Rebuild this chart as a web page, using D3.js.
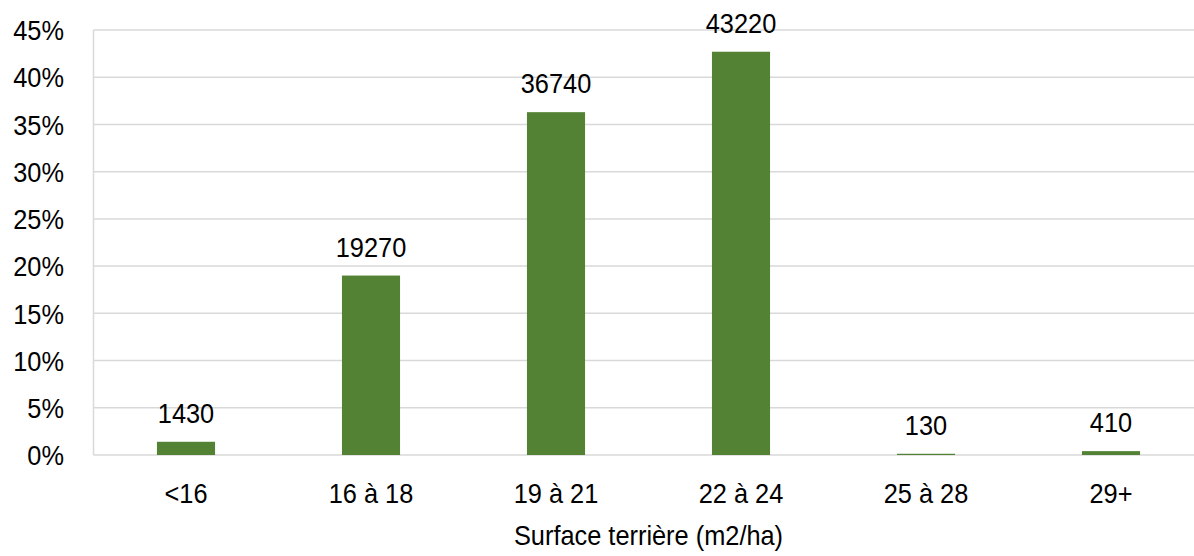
<!DOCTYPE html>
<html>
<head>
<meta charset="utf-8">
<script src="https://cdn.jsdelivr.net/npm/d3@7"></script>
<style>
  body { margin: 0; background: #fff; }
  svg text { font-family: "Liberation Sans", Arial, sans-serif; fill: #000; }
</style>
</head>
<body>
<div id="chart"></div>
<script>
// categories, counts shown above bars, share (%)
const categories = ["<16", "16 à 18", "19 à 21", "22 à 24", "25 à 28", "29+"];
const counts = [1430, 19270, 36740, 43220, 130, 410];
const shares = [1.4, 19.0, 36.3, 42.7, 0.13, 0.41];
const yTicks = [0, 5, 10, 15, 20, 25, 30, 35, 40, 45];
const xTitle = "Surface terrière (m2/ha)";

const width = 1194;
const height = 556;
const plot = { left: 93.5, right: 1203.5, top: 30, bottom: 455 };
const fontSize = 28.5;

const data = categories.map((c, i) => ({ cat: c, count: counts[i], share: shares[i] }));

// narrow look: move x/y into a transform and squeeze horizontally
function squeeze(sel) {
    sel.each(function () {
        const t = d3.select(this);
        const x = +t.attr("x") || 0, y = +t.attr("y") || 0;
        t.attr("x", 0).attr("y", 0)
            .attr("transform", `translate(${x},${y}) scale(0.89,1)`);
    });
}

const svg = d3.select("#chart")
    .append("svg")
    .attr("width", width)
    .attr("height", height);

const xScale = d3.scaleBand()
    .domain(categories)
    .range([plot.left, plot.right])
    .paddingInner(0.686)
    .paddingOuter(0.343);

const yScale = d3.scaleLinear()
    .domain([0, 45])
    .range([plot.bottom, plot.top]);

// horizontal gridlines
svg.append("g")
    .selectAll("line")
    .data(yTicks)
    .enter().append("line")
    .attr("x1", plot.left)
    .attr("x2", plot.right)
    .attr("y1", d => yScale(d))
    .attr("y2", d => yScale(d))
    .attr("stroke", "#d9d9d9")
    .attr("stroke-width", 1.5);

// left axis line
svg.append("line")
    .attr("x1", plot.left)
    .attr("x2", plot.left)
    .attr("y1", plot.top)
    .attr("y2", plot.bottom)
    .attr("stroke", "#d9d9d9")
    .attr("stroke-width", 1.5);

// y tick labels
svg.append("g")
    .selectAll("text")
    .data(yTicks)
    .enter().append("text")
    .attr("x", 64)
    .attr("y", d => yScale(d))
    .attr("dy", "0.36em")
    .attr("text-anchor", "end")
    .attr("font-size", fontSize)
    .text(d => d + "%")
    .call(squeeze);

// bars
svg.selectAll(".bar")
    .data(data)
    .enter().append("rect")
    .attr("class", "bar")
    .attr("x", d => xScale(d.cat))
    .attr("y", d => yScale(d.share))
    .attr("width", xScale.bandwidth())
    .attr("height", d => yScale(0) - yScale(d.share))
    .attr("fill", "#548235");

// count labels
svg.selectAll(".lbl")
    .data(data)
    .enter().append("text")
    .attr("class", "lbl")
    .attr("x", d => xScale(d.cat) + xScale.bandwidth() / 2)
    .attr("y", d => yScale(d.share) - 19)
    .attr("text-anchor", "middle")
    .attr("font-size", fontSize)
    .text(d => d.count)
    .call(squeeze);

// x tick labels
svg.append("g")
    .selectAll("text")
    .data(categories)
    .enter().append("text")
    .attr("x", d => xScale(d) + xScale.bandwidth() / 2)
    .attr("y", 503)
    .attr("text-anchor", "middle")
    .attr("font-size", fontSize)
    .text(d => d)
    .call(squeeze);

// axis title
svg.append("text")
    .attr("x", (plot.left + plot.right) / 2)
    .attr("y", 545)
    .attr("text-anchor", "middle")
    .attr("font-size", fontSize)
    .text(xTitle)
    .call(squeeze);
</script>
</body>
</html>
